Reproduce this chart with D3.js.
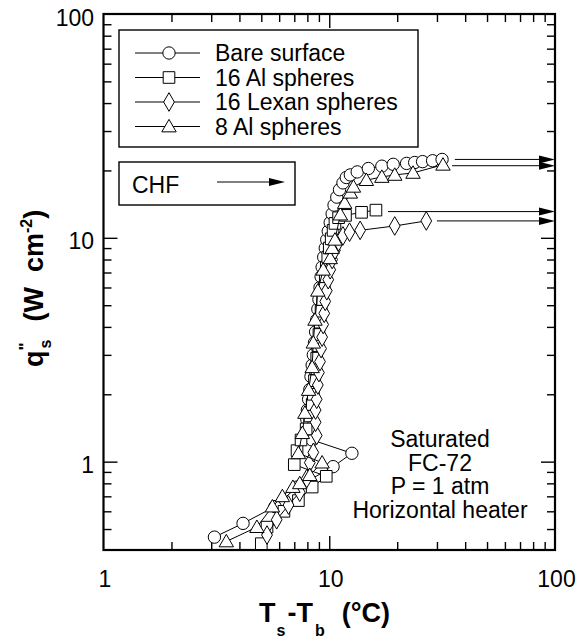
<!DOCTYPE html>
<html><head><meta charset="utf-8">
<script src="https://cdn.jsdelivr.net/npm/d3@7"></script>
<style>
body{margin:0;background:#fff;}
svg{display:block;font-family:"Liberation Sans",Arial,Helvetica,sans-serif;}
text{white-space:pre;}
</style></head><body>
<svg id="c" width="579" height="639"></svg>
<script>
// ---- data (x = Ts-Tb in °C, q = heat flux in W/cm2) ----
const bareX = [3.1,4.15,5.75,7.2,10.4,12.6,8.4,8.1,7.95,8.0,8.1,8.2,8.3,8.4,8.5,8.6,8.7,8.8,8.9,9.0,9.1,9.2,9.3,9.45,9.6,9.75,9.9,10.1,10.3,10.5,10.8,11.1,11.5,11.9,12.4,13.3,14.9,17.1,19.2,22.0,23.9,25.9,28.7,31.6];
const bareQ = [0.46,0.53,0.63,0.77,0.95,1.09,1.25,1.4,1.55,1.7,1.9,2.1,2.4,2.7,3.0,3.4,3.8,4.3,4.8,5.3,6.0,6.7,7.4,8.2,9.0,9.8,10.7,11.7,12.8,14.0,15.2,16.4,17.6,18.6,19.1,19.7,20.4,20.9,21.3,21.5,21.7,21.9,22.1,22.4];

const al16X = [5.0,5.3,6.3,7.3,8.4,9.7,7.0,7.2,7.5,7.9,8.2,8.4,8.5,8.6,8.7,8.8,8.9,9.0,9.1,9.2,9.35,9.5,9.6,9.7,9.85,10.0,10.2,10.4,10.6,11.0,11.8,13.9,16.1];
const al16Q = [0.43,0.51,0.60,0.67,0.77,0.86,0.97,1.12,1.25,1.4,1.6,1.8,2.0,2.3,2.6,2.9,3.3,3.7,4.2,4.7,5.3,6.0,6.7,7.4,8.2,9.0,9.9,10.8,11.6,12.3,12.6,13.0,13.3];

const lexX = [5.3,5.85,6.6,7.4,7.95,8.2,8.5,8.8,8.7,8.7,8.8,8.9,9.0,9.1,9.2,9.3,9.4,9.5,9.6,9.75,9.9,10.1,10.3,10.6,11.0,11.5,12.3,13.7,19.5,26.9];
const lexQ = [0.47,0.55,0.64,0.73,0.84,0.99,1.1,1.31,1.5,1.7,1.9,2.2,2.5,2.8,3.2,3.6,4.1,4.6,5.2,5.8,6.5,7.2,8.0,8.8,9.6,10.2,10.6,10.8,11.3,11.9];

const al8X = [3.5,4.78,5.6,6.2,6.9,7.4,8.2,9.3,7.3,7.6,7.8,8.1,8.4,8.5,8.65,8.9,9.4,10.1,10.3,10.6,11.2,11.7,12.4,12.8,14.6,17.1,19.5,23.5,31.9];
const al8Q = [0.44,0.51,0.63,0.70,0.77,0.80,0.87,0.99,1.09,1.34,1.65,2.09,2.64,3.4,4.3,5.8,7.2,8.1,9.0,9.8,12.7,14.3,15.9,16.9,18.1,18.7,19.1,19.5,21.2];

const seriesNames = ["Bare surface","16 Al spheres","16 Lexan spheres","8 Al spheres"];
const seriesSymbols = ["circle","square","diamond","triangle"];
// CHF arrows: start superheat and heat flux for each series
const chfStartX = [36, 18.2, 30, 35];
const chfQ = [22.4, 13.1, 11.9, 21.0];

const xTickLabels = [1,10,100];
const yTickLabels = [1,10,100];
const noteLines = ["Saturated","FC-72","P = 1 atm","Horizontal heater"];

// ---- drawing ----
const svg = d3.select("#c");
const L=103.5,R=555,T=14,B=550;
const x = d3.scaleLog().domain([1,100]).range([L,R]);
const y = d3.scaleLog().domain([0.403,100]).range([B,T]);

const xMinor=[2,3,4,5,6,7,8,9,20,30,40,50,60,70,80,90];
const yMinor=[0.5,0.6,0.7,0.8,0.9,2,3,4,5,6,7,8,9,20,30,40,50,60,70,80,90];

function tickAxis(axis, g){ g.call(axis); g.select(".domain").remove(); g.selectAll("line").attr("stroke","#000").attr("stroke-width",1.4); g.selectAll("text").remove(); }
tickAxis(d3.axisBottom(x).tickValues([10]).tickSize(-14), svg.append("g").attr("transform",`translate(0,${B})`));
tickAxis(d3.axisBottom(x).tickValues(xMinor).tickSize(-8), svg.append("g").attr("transform",`translate(0,${B})`));
tickAxis(d3.axisTop(x).tickValues([10]).tickSize(-14), svg.append("g").attr("transform",`translate(0,${T})`));
tickAxis(d3.axisTop(x).tickValues(xMinor).tickSize(-8), svg.append("g").attr("transform",`translate(0,${T})`));
tickAxis(d3.axisLeft(y).tickValues([1,10]).tickSize(-14), svg.append("g").attr("transform",`translate(${L},0)`));
tickAxis(d3.axisLeft(y).tickValues(yMinor).tickSize(-8), svg.append("g").attr("transform",`translate(${L},0)`));
tickAxis(d3.axisRight(y).tickValues([1,10]).tickSize(-14), svg.append("g").attr("transform",`translate(${R},0)`));
tickAxis(d3.axisRight(y).tickValues(yMinor).tickSize(-8), svg.append("g").attr("transform",`translate(${R},0)`));

// tick labels
svg.append("g").selectAll("text").data(xTickLabels).join("text")
  .attr("x",d=>x(d)+1.5).attr("y",587).attr("text-anchor","middle")
  .attr("font-size",23).text(d=>d);
svg.append("g").selectAll("text").data(yTickLabels).join("text")
  .attr("x",94).attr("y",d=>y(d)+11.5).attr("text-anchor","end")
  .attr("font-size",23).text(d=>d);

// frame
svg.append("rect").attr("x",L).attr("y",T).attr("width",R-L).attr("height",B-T)
  .attr("fill","none").attr("stroke","#000").attr("stroke-width",2.2);

// axis titles
const xt = svg.append("text").attr("x",259).attr("y",621.5).attr("font-size",27).attr("font-weight","bold");
xt.append("tspan").text("T");
xt.append("tspan").attr("font-size",16).attr("dy",14).attr("dx",1).text("s");
xt.append("tspan").attr("dy",-14).attr("dx",2).text("-T");
xt.append("tspan").attr("font-size",16).attr("dy",14).attr("dx",2).text("b");
xt.append("tspan").attr("dy",-14).attr("dx",2).text("  (°C)");

const yt = svg.append("text").attr("transform","translate(43,367) rotate(-90)")
  .attr("font-size",27).attr("font-weight","bold");
yt.append("tspan").text("q");
yt.append("tspan").attr("font-size",17).attr("dy",-12).text("\"");
yt.append("tspan").attr("font-size",16).attr("dy",20).attr("dx",-6).text("s");
yt.append("tspan").attr("dy",-8).attr("dx",3).text("  (W  cm");
yt.append("tspan").attr("font-size",16).attr("dy",-11).text("-2");
yt.append("tspan").attr("dy",11).text(")");

// symbols
const symType = {circle:d3.symbolCircle,square:d3.symbolSquare,diamond:d3.symbolDiamond,triangle:d3.symbolTriangle};
const symSize = {circle:120,square:135,diamond:100,triangle:90};
function drawSym(g,type,cx,cy){
  g.append("path").attr("d",d3.symbol().type(symType[type]).size(symSize[type])())
   .attr("transform",`translate(${cx},${cy + (type==="triangle"?1.2:0)})`)
   .attr("fill","#fff").attr("stroke","#000").attr("stroke-width",1);
}

const seriesX=[bareX,al16X,lexX,al8X], seriesQ=[bareQ,al16Q,lexQ,al8Q];
const line = d3.line().x(d=>x(d[0])).y(d=>y(d[1]));
const plot = svg.append("g");
seriesX.forEach((xs,i)=>{
  const pts = xs.map((v,j)=>[v,seriesQ[i][j]]);
  const g = plot.append("g");
  g.append("path").attr("d",line(pts)).attr("fill","none").attr("stroke","#000").attr("stroke-width",1);
  pts.forEach(p=>drawSym(g,seriesSymbols[i],x(p[0]),y(p[1])));
});

// CHF arrows
function arrow(g,x1,x2,yy){
  g.append("line").attr("x1",x1).attr("x2",x2-14).attr("y1",yy).attr("y2",yy).attr("stroke","#000").attr("stroke-width",1);
  g.append("path").attr("d",`M${x2},${yy} L${x2-16},${yy-4} L${x2-16},${yy+4} Z`).attr("fill","#000");
}
const ag = svg.append("g");
chfStartX.forEach((s,i)=>arrow(ag,x(s),R,y(chfQ[i])));

// legend
const lg = svg.append("g");
lg.append("rect").attr("x",119).attr("y",30).attr("width",299).attr("height",117).attr("fill","#fff").attr("stroke","#000").attr("stroke-width",1.4);
seriesNames.forEach((n,i)=>{
  const cy = 53 + i*24.5;
  lg.append("line").attr("x1",135).attr("x2",200).attr("y1",cy).attr("y2",cy).attr("stroke","#000").attr("stroke-width",1);
  drawSym(lg,seriesSymbols[i],169,cy);
  lg.append("text").attr("x",215).attr("y",cy+8.3).attr("font-size",23).text(n);
});
// CHF box
const cg = svg.append("g");
cg.append("rect").attr("x",119).attr("y",162).attr("width",176).attr("height",43).attr("fill","#fff").attr("stroke","#000").attr("stroke-width",1.4);
cg.append("text").attr("x",132).attr("y",192.5).attr("font-size",23).text("CHF");
arrow(cg,217,285,182);

// note
svg.append("g").selectAll("text").data(noteLines).join("text")
  .attr("x",440).attr("y",(d,i)=>447+i*23.5).attr("text-anchor","middle").attr("font-size",23).text(d=>d);
</script>
</body></html>
